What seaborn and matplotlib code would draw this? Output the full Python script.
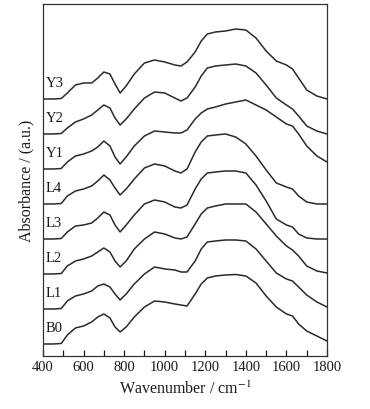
import numpy as np
import pandas as pd
import matplotlib
matplotlib.use("Agg")
import matplotlib.pyplot as plt
from matplotlib.ticker import MultipleLocator
import seaborn as sns

# wavenumber grid (cm-1) shared by all spectra
wavenumber = [400, 450, 490, 520, 560, 600, 640, 670, 700, 730, 755, 780, 810, 850,
              900, 950, 1000, 1050, 1080, 1110, 1150, 1180, 1210, 1250, 1300, 1350,
              1400, 1450, 1500, 1550, 1600, 1630, 1660, 1700, 1750, 1800]

# absorbance x100 above each curve's own baseline
B0 = [0, 0, 0.5, 9, 16, 18, 22, 27, 30, 26, 17, 12, 17, 27, 37, 43, 42, 40, 39, 38,
      50, 60, 66, 68, 69, 69.5, 68, 61, 48, 37, 30, 28, 20, 13, 8, 3]
L1 = [0, 0, 0.5, 8, 13, 15, 18, 23, 25, 22, 15, 9, 15, 25, 35, 42, 40, 39, 37, 37,
      48, 60, 67, 68, 69, 69, 68, 60, 48, 36, 30, 28, 22, 14, 7, 2]
L2 = [0, 0, 0.5, 8, 13, 15, 18, 22, 26, 22, 13, 7, 13, 25, 35, 42, 40, 36, 35, 37,
      50, 60, 66, 68, 70, 70, 70, 62, 50, 38, 28, 24, 18, 8, 3, 1]
L3 = [0, 0, 0.5, 7, 13, 14, 16, 21, 27, 24, 14, 7, 14, 24, 35, 39, 37, 32, 31, 34,
      50, 60, 66, 67, 68, 68, 66, 54, 38, 20, 14, 12, 5, 1, 0, 0]
L4 = [0, 0, 0.5, 8, 13, 15, 18, 23, 29, 24, 16, 9, 15, 25, 36, 40, 38, 33, 31, 35,
      52, 62, 68, 69, 70, 67, 60, 48, 34, 21, 17, 15, 8, 2, 0, 0]
Y1 = [0, 0, 0.5, 7, 13, 15, 18, 22, 28, 23, 12, 5, 12, 23, 33, 38, 37, 36, 36, 39,
      50, 56, 60, 62, 65, 67, 69, 64, 59, 52, 45, 43, 35, 23, 13, 7]
Y2 = [0, 0, 0.5, 6, 12, 15, 19, 24, 29, 26, 16, 9, 15, 25, 36, 42, 41, 36, 33, 36,
      47, 58, 66, 68, 69, 70, 68, 61, 49, 36, 29, 25, 18, 8, 3, 0]
Y3 = [0, 0, 0.5, 6, 14, 16, 16, 21, 27, 25, 15, 6, 13, 25, 36, 39, 37, 34, 33, 37,
      47, 58, 65, 67, 68, 70, 69, 61, 48, 38, 34, 30, 21, 9, 3, 0]

samples = ["B0", "L1", "L2", "L3", "L4", "Y1", "Y2", "Y3"]
spectra = [B0, L1, L2, L3, L4, Y1, Y2, Y3]
offset_step = 0.35

rows = []
for i, (name, vals) in enumerate(zip(samples, spectra)):
    for w, a in zip(wavenumber, vals):
        rows.append([name, w, a / 100.0 + i * offset_step])
df = pd.DataFrame(rows, columns=["sample", "wavenumber", "absorbance"])

sns.set_theme(style="ticks")
plt.rcParams["font.family"] = ["Liberation Serif", "DejaVu Serif"]
plt.rcParams["mathtext.fontset"] = "stix"
plt.rcParams["lines.solid_joinstyle"] = "round"

fig = plt.figure(figsize=(3.7, 4.1), dpi=100)
ax = fig.add_axes([0.1162, 0.1293, 0.7676, 0.8585])

sns.lineplot(data=df, x="wavenumber", y="absorbance", hue="sample",
             palette=["#2a2a2a"] * len(samples), linewidth=1.1, legend=False,
             ax=ax, sort=False)

for i, name in enumerate(samples):
    ax.text(412, i * offset_step + 0.16, name, fontsize=10.5, va="center",
            ha="left", color="#1a1a1a")

ax.set_xlim(400, 1800)
ax.set_ylim(-0.12, 3.40)
ax.xaxis.set_major_locator(MultipleLocator(200))
ax.xaxis.set_minor_locator(MultipleLocator(100))
ax.tick_params(axis="x", which="both", direction="in", length=4, width=0.9,
               labelsize=10.5, pad=3, colors="#1a1a1a", top=False)
ax.tick_params(axis="y", left=False, labelleft=False)
ax.set_yticks([])
for sp in ax.spines.values():
    sp.set_linewidth(0.9)
    sp.set_color("#333333")

ax.set_xlabel("Wavenumber / cm$^{-1}$", fontsize=11.5, labelpad=5, color="#1a1a1a")
ax.set_ylabel("Absorbance / (a.u.)", fontsize=11.5, labelpad=6, color="#1a1a1a")

fig.savefig("out.png", dpi=100)
